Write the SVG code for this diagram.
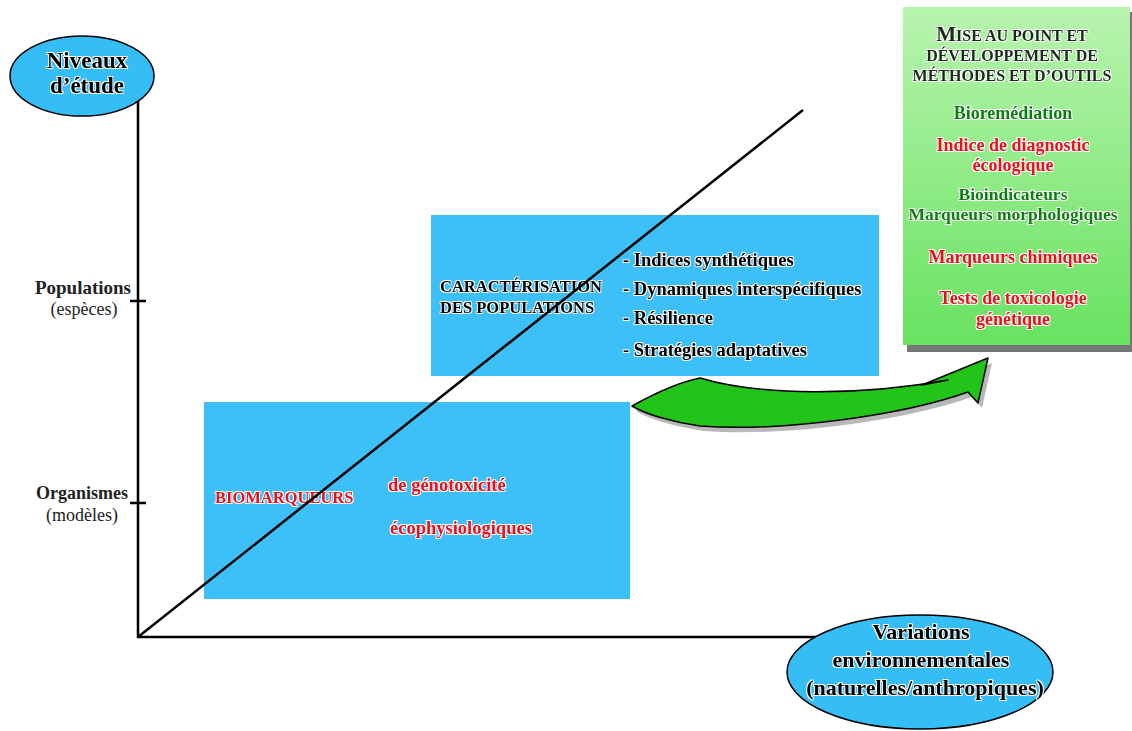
<svg xmlns="http://www.w3.org/2000/svg" width="1132" height="731" viewBox="0 0 1132 731">
<defs>
<linearGradient id="gpanel" x1="0" y1="0" x2="0" y2="1">
<stop offset="0" stop-color="#b8f4ae"/>
<stop offset="1" stop-color="#68e260"/>
</linearGradient>
<filter id="halo" x="-10%" y="-40%" width="125%" height="190%" color-interpolation-filters="sRGB">
<feMorphology in="SourceAlpha" operator="dilate" radius="1.2" result="d"/>
<feFlood flood-color="#ffffff"/>
<feComposite in2="d" operator="in" result="w"/>
<feMerge><feMergeNode in="w"/><feMergeNode in="SourceGraphic"/></feMerge>
</filter>
<style>
.t{font-family:"Liberation Serif","Times New Roman",serif;font-weight:bold;filter:url(#halo)}
.n{font-family:"Liberation Serif","Times New Roman",serif;fill:#222}
.axis{stroke:#000;stroke-width:2.5;fill:none}
.blue{fill:#3dbff7}
.red{fill:#e8101a}
.dg{fill:#107a14}
.blk{fill:#000}
</style>
</defs>
<rect width="1132" height="731" fill="#fff"/>

<g id="connectors">
<line class="axis" x1="138" y1="90" x2="138" y2="638"/>
<line class="axis" x1="137" y1="637" x2="835" y2="637"/>
<line class="axis" x1="130" y1="301" x2="146" y2="301"/>
<line class="axis" x1="130" y1="503" x2="146" y2="503"/>
</g>

<g id="box-organismes">
<rect class="blue" x="204" y="402" width="426" height="197"/>
<text class="t red" x="215" y="503" font-size="16.5">BIOMARQUEURS</text>
<text class="t red" x="388" y="491" font-size="18.5">de génotoxicité</text>
<text class="t red" x="390" y="534" font-size="18.5">écophysiologiques</text>
</g>

<g id="box-populations">
<rect class="blue" x="431" y="215" width="448" height="161"/>
<text class="t blk" x="440" y="292" font-size="16.5">CARACTÉRISATION</text>
<text class="t blk" x="440" y="313" font-size="16.5">DES POPULATIONS</text>
<text class="t blk" x="623" y="266" font-size="18.5">- Indices synthétiques</text>
<text class="t blk" x="623" y="295" font-size="18.5">- Dynamiques interspécifiques</text>
<text class="t blk" x="623" y="324" font-size="18.5">- Résilience</text>
<text class="t blk" x="623" y="356" font-size="18.5">- Stratégies adaptatives</text>
</g>

<g id="diagonal">
<line class="axis" x1="138" y1="637" x2="803" y2="110"/>
</g>

<g id="arrow">
<path d="M632 406 C650 396,675 383,700 378 C760 396,860 396,948 380 L922 385 L988 358 L978 403 L968 392 C900 416,780 432,700 426 C672 422,645 414,632 406 Z" fill="#888" transform="translate(4,5)" opacity="0.6"/>
<path d="M632 406 C650 396,675 383,700 378 C760 396,860 396,948 380 L922 385 L988 358 L978 403 L968 392 C900 416,780 432,700 426 C672 422,645 414,632 406 Z" fill="#22c41a" stroke="#000" stroke-width="1.5" stroke-linejoin="round"/>
</g>

<g id="panel">
<rect x="907" y="12" width="225" height="340" fill="#777"/>
<rect x="903" y="7" width="227" height="338" fill="url(#gpanel)"/>
<text class="t" x="1012" y="41" text-anchor="middle" fill="#1a2a1a" font-size="16"><tspan font-size="21">M</tspan>ISE AU POINT ET</text>
<text class="t" x="1012" y="61" text-anchor="middle" fill="#1a2a1a" font-size="16">DÉVELOPPEMENT DE</text>
<text class="t" x="1012" y="81" text-anchor="middle" fill="#1a2a1a" font-size="16">MÉTHODES ET D’OUTILS</text>
<text class="t dg" x="1013" y="119" text-anchor="middle" font-size="18">Bioremédiation</text>
<text class="t red" x="1013" y="151" text-anchor="middle" font-size="18">Indice de diagnostic</text>
<text class="t red" x="1013" y="171" text-anchor="middle" font-size="18">écologique</text>
<text class="t dg" x="1013" y="200" text-anchor="middle" font-size="17.5">Bioindicateurs</text>
<text class="t dg" x="1013" y="220" text-anchor="middle" font-size="17.5">Marqueurs morphologiques</text>
<text class="t red" x="1013" y="263" text-anchor="middle" font-size="18">Marqueurs chimiques</text>
<text class="t red" x="1013" y="304" text-anchor="middle" font-size="18">Tests de toxicologie</text>
<text class="t red" x="1013" y="325" text-anchor="middle" font-size="18">génétique</text>
</g>

<g id="niveaux">
<ellipse cx="82" cy="76" rx="72" ry="40" fill="#35bdf5" stroke="#000" stroke-width="1.5"/>
<text class="t blk" x="87" y="68" text-anchor="middle" font-size="23">Niveaux</text>
<text class="t blk" x="87" y="93" text-anchor="middle" font-size="23">d’étude</text>
</g>

<g id="variations">
<ellipse cx="920" cy="672" rx="133" ry="57" fill="#35bdf5" stroke="#000" stroke-width="1.5"/>
<text class="t blk" x="921" y="639" text-anchor="middle" font-size="22">Variations</text>
<text class="t blk" x="921" y="667" text-anchor="middle" font-size="22">environnementales</text>
<text class="t blk" x="925" y="695" text-anchor="middle" font-size="22">(naturelles/anthropiques)</text>
</g>

<g id="labels">
<text class="n" x="131" y="294" text-anchor="end" font-size="19" font-weight="bold">Populations</text>
<text class="n" x="84" y="315" text-anchor="middle" font-size="18">(espèces)</text>
<text class="n" x="128" y="499" text-anchor="end" font-size="18" font-weight="bold">Organismes</text>
<text class="n" x="82" y="521" text-anchor="middle" font-size="18">(modèles)</text>
</g>
</svg>
